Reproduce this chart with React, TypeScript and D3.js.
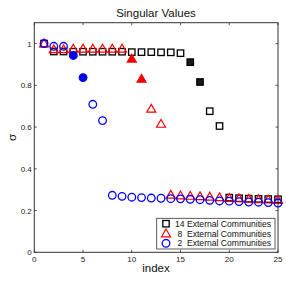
import React from 'react';
import * as d3 from 'd3';

// index 1..25
const indices = d3.range(1, 26);

const sv14 = [1.0, 0.962, 0.962, 0.961, 0.961, 0.961, 0.961, 0.961, 0.961, 0.959, 0.959, 0.959, 0.958, 0.958, 0.954, 0.911, 0.816, 0.676, 0.605, 0.262, 0.259, 0.257, 0.256, 0.255, 0.254];
const sv8 = [1.0, 0.972, 0.972, 0.975, 0.975, 0.975, 0.975, 0.975, 0.975, 0.927, 0.831, 0.687, 0.615, 0.275, 0.272, 0.27, 0.268, 0.266, 0.263, 0.26, 0.258, 0.256, 0.254, 0.252, 0.25];
const sv2 = [1.0, 0.987, 0.987, 0.943, 0.837, 0.709, 0.631, 0.273, 0.268, 0.264, 0.262, 0.26, 0.259, 0.257, 0.256, 0.254, 0.252, 0.249, 0.246, 0.245, 0.243, 0.241, 0.24, 0.238, 0.236];

// indices drawn with filled markers
const filled14 = [16, 17];
const filled8 = [10, 11];
const filled2 = [4, 5];

const xTicks = [0, 5, 10, 15, 20, 25];
const yTicks = [0, 0.2, 0.4, 0.6, 0.8, 1];
const legendLabels = ['14 External Communities', ' 8  External Communities', ' 2  External Communities'];

const FONT = '"Liberation Sans", Arial, sans-serif';
const AX = '#333';

const Square = ({ x, y, fill }: { x: number; y: number; fill: boolean }) => (
  <rect x={x - 3.2} y={y - 3.2} width={6.4} height={6.4} fill={fill ? '#1a1a1a' : 'none'} stroke="#000" strokeWidth={1.3} />
);
const Tri = ({ x, y, fill }: { x: number; y: number; fill: boolean }) => (
  <path d={`M${x},${y - 4.5}L${x + 4.5},${y + 3.3}L${x - 4.5},${y + 3.3}Z`} fill={fill ? '#e00' : 'none'} stroke="#f00" strokeWidth={1.2} />
);
const Circ = ({ x, y, fill }: { x: number; y: number; fill: boolean }) => (
  <circle cx={x} cy={y} r={3.8} fill={fill ? '#0000e0' : 'none'} stroke="#00f" strokeWidth={1.3} />
);

export default function App() {
  const margin = { left: 34.3, right: 278, top: 22.7, bottom: 252.3 };
  const x = d3.scaleLinear().domain([0, 25]).range([margin.left, margin.right]);
  const y = d3.scaleLinear().domain([0, 1.1]).range([margin.bottom, margin.top]);

  return (
    <svg width={286} height={287} style={{ position: 'absolute', left: 0, top: 0, background: '#fff' }}>
      <rect width={286} height={287} fill="#fff" />
      <text x={156} y={17} textAnchor="middle" fontFamily={FONT} fontSize={11.5} fill="#111">Singular Values</text>

      {/* box */}
      <rect x={margin.left} y={margin.top} width={margin.right - margin.left} height={margin.bottom - margin.top} fill="none" stroke={AX} strokeWidth={1} />

      {/* ticks */}
      {xTicks.map((t) => (
        <g key={'x' + t}>
          <line x1={x(t)} x2={x(t)} y1={margin.bottom} y2={margin.bottom - 2.5} stroke={AX} strokeWidth={0.8} />
          <line x1={x(t)} x2={x(t)} y1={margin.top} y2={margin.top + 2.5} stroke={AX} strokeWidth={0.8} />
          <text x={x(t)} y={margin.bottom + 10} textAnchor="middle" fontFamily={FONT} fontSize={8} fill="#222">{t}</text>
        </g>
      ))}
      {yTicks.map((t) => (
        <g key={'y' + t}>
          <line x1={margin.left} x2={margin.left + 2.5} y1={y(t)} y2={y(t)} stroke={AX} strokeWidth={0.8} />
          <line x1={margin.right} x2={margin.right - 2.5} y1={y(t)} y2={y(t)} stroke={AX} strokeWidth={0.8} />
          <text x={margin.left - 2.5} y={y(t) + 3} textAnchor="end" fontFamily={FONT} fontSize={8} fill="#222">{t === 0 ? '0' : d3.format('~g')(t)}</text>
        </g>
      ))}

      <text x={156} y={272} textAnchor="middle" fontFamily={FONT} fontSize={11.5} fill="#111">index</text>
      <text transform={`translate(16,${(margin.top + margin.bottom) / 2}) rotate(-90)`} textAnchor="middle" fontFamily={FONT} fontSize={11.5} fill="#111">σ</text>

      {/* series */}
      {indices.map((i, k) => <Square key={'s' + i} x={x(i)} y={y(sv14[k])} fill={filled14.includes(i)} />)}
      {indices.map((i, k) => <Tri key={'t' + i} x={x(i)} y={y(sv8[k])} fill={filled8.includes(i)} />)}
      {indices.map((i, k) => <Circ key={'c' + i} x={x(i)} y={y(sv2[k])} fill={filled2.includes(i)} />)}

      {/* legend */}
      <g>
        <rect x={156.7} y={218.3} width={118.3} height={30.7} fill="#fff" stroke={AX} strokeWidth={0.8} />
        <Square x={166} y={223.7} fill={false} />
        <Tri x={166} y={233.5} fill={false} />
        <Circ x={166} y={243.3} fill={false} />
        {legendLabels.map((l, k) => (
          <text key={l} x={175} y={226.7 + k * 9.8} fontFamily={FONT} fontSize={8.6} fill="#111" style={{ whiteSpace: 'pre' }}>{l}</text>
        ))}
      </g>
    </svg>
  );
}
